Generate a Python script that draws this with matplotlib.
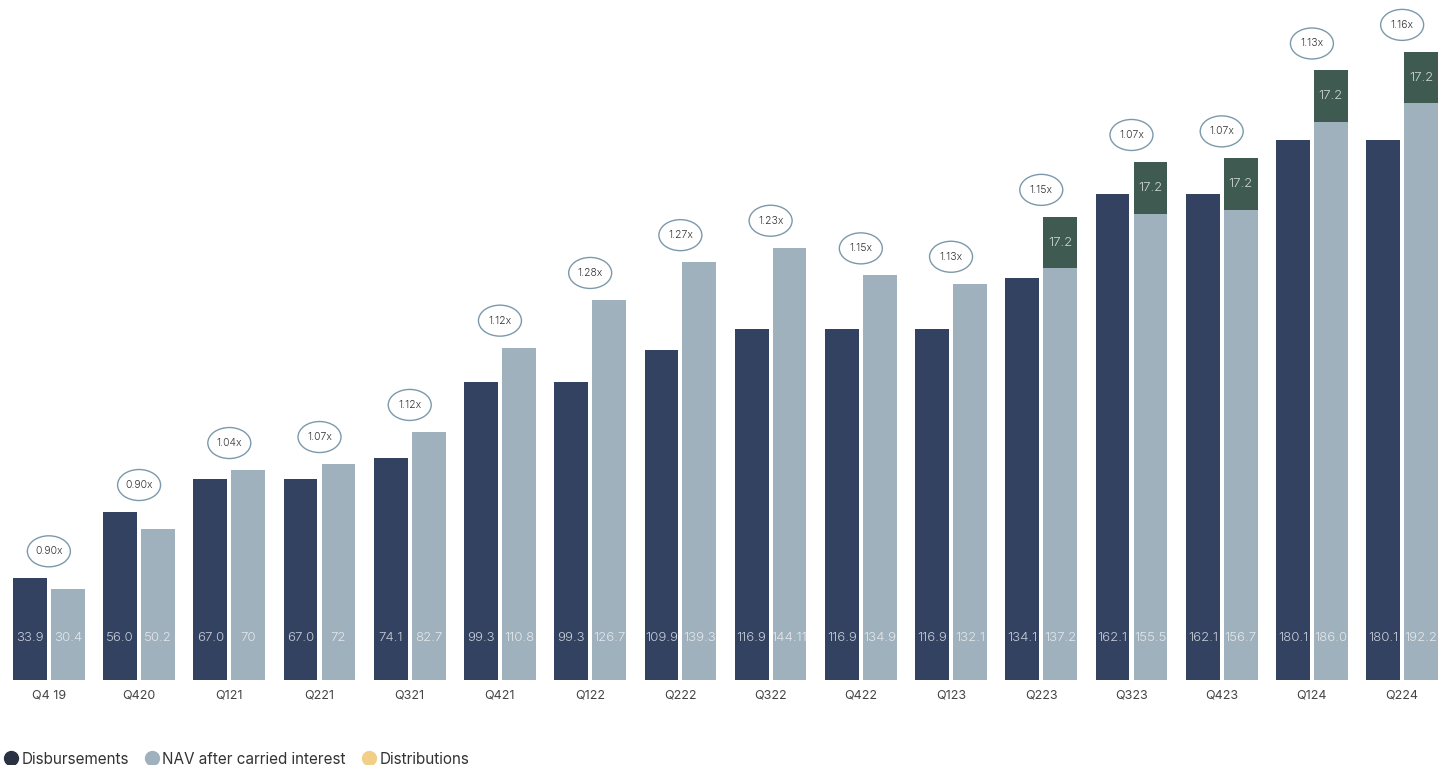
import matplotlib
matplotlib.use("Agg")
import matplotlib.pyplot as plt
from matplotlib.patches import Ellipse
from matplotlib.lines import Line2D

quarters = ["Q4 19", "Q420", "Q121", "Q221", "Q321", "Q421", "Q122", "Q222",
            "Q322", "Q422", "Q123", "Q223", "Q323", "Q423", "Q124", "Q224"]
disbursements = [33.9, 56.0, 67.0, 67.0, 74.1, 99.3, 99.3, 109.9,
                 116.9, 116.9, 116.9, 134.1, 162.1, 162.1, 180.1, 180.1]
nav = [30.4, 50.2, 70, 72, 82.7, 110.8, 126.7, 139.3,
       144.11, 134.9, 132.1, 137.2, 155.5, 156.7, 186.0, 192.2]
nav_labels = ["30.4", "50.2", "70", "72", "82.7", "110.8", "126.7", "139.3",
              "144.11", "134.9", "132.1", "137.2", "155.5", "156.7", "186.0", "192.2"]
disb_labels = ["33.9", "56.0", "67.0", "67.0", "74.1", "99.3", "99.3", "109.9",
               "116.9", "116.9", "116.9", "134.1", "162.1", "162.1", "180.1", "180.1"]
distributions = [0, 0, 0, 0, 0, 0, 0, 0, 0, 0, 0, 17.2, 17.2, 17.2, 17.2, 17.2]
multiples = ["0.90x", "0.90x", "1.04x", "1.07x", "1.12x", "1.12x", "1.28x", "1.27x",
             "1.23x", "1.15x", "1.13x", "1.15x", "1.07x", "1.07x", "1.13x", "1.16x"]

C_DARK = "#334260"
C_LIGHT = "#9fb1bc"
C_GREEN = "#3e5a51"
C_EDGE = "#7c99ab"
C_LEG_DARK = "#2a3142"
C_LEG_YEL = "#f1cf87"

plt.rcParams["font.family"] = ["Inter", "DejaVu Sans"]

W, H = 1438, 765
fig = plt.figure(figsize=(W / 100, H / 100), dpi=100)
base_px = 85
ax = fig.add_axes([0, base_px / H, 1, (H - base_px) / H])

off = 0.21
bw = 0.375
first_left = -off - bw / 2
last_right = (len(quarters) - 1) + off + bw / 2
ppu_x = (W - 13) / (last_right - first_left)
ax.set_xlim(first_left - 13 / ppu_x, last_right)

ymax = 226.7
ax.set_ylim(0, ymax)
ppu_y = (H - base_px) / ymax

x = list(range(len(quarters)))
xd = [i - off for i in x]
xl = [i + off for i in x]

ax.bar(xd, disbursements, width=bw, color=C_DARK, zorder=2)
ax.bar(xl, nav, width=bw, color=C_LIGHT, zorder=2)
ax.bar(xl, distributions, width=bw, bottom=nav, color=C_GREEN, zorder=2)

lab_y = 42 / ppu_y
for i in x:
    ax.text(xd[i], lab_y, disb_labels[i], ha="center", va="center",
            color="#c9cfdb", fontsize=9.5, fontweight=300, zorder=3)
    ax.text(xl[i], lab_y, nav_labels[i], ha="center", va="center",
            color="#e3e8ec", fontsize=9.5, fontweight=300, zorder=3)
    if distributions[i] > 0:
        ax.text(xl[i], nav[i] + distributions[i] / 2, f"{distributions[i]:.1f}",
                ha="center", va="center", color="#cfd8d6", fontsize=9.5,
                fontweight=300, zorder=3)
    top = max(disbursements[i], nav[i] + distributions[i])
    cy = top + 27 / ppu_y
    e = Ellipse((i, cy), width=43 / ppu_x, height=31 / ppu_y, facecolor="white",
                edgecolor=C_EDGE, linewidth=1.0, zorder=4, clip_on=False)
    ax.add_patch(e)
    ax.text(i, cy, multiples[i], ha="center", va="center", fontsize=7.5,
            fontweight=300, color="#333333", zorder=5)

ax.set_xticks(x)
ax.set_xticklabels(quarters, fontsize=9, color="#444444")
ax.tick_params(axis="x", length=0, pad=7)
ax.set_yticks([])
for s in ax.spines.values():
    s.set_visible(False)

handles = [
    Line2D([], [], marker="o", linestyle="", markersize=10, color=C_LEG_DARK),
    Line2D([], [], marker="o", linestyle="", markersize=10, color=C_LIGHT),
    Line2D([], [], marker="o", linestyle="", markersize=10, color=C_LEG_YEL),
]
fig.legend(handles, ["Disbursements", "NAV after carried interest", "Distributions"],
           loc="center left", bbox_to_anchor=(0.002, 6 / H), ncol=3, frameon=False,
           fontsize=11, handletextpad=0.2, columnspacing=1.0, handlelength=1.0,
           labelcolor="#333333", borderaxespad=0, borderpad=0)

fig.savefig("out.png", dpi=100)
